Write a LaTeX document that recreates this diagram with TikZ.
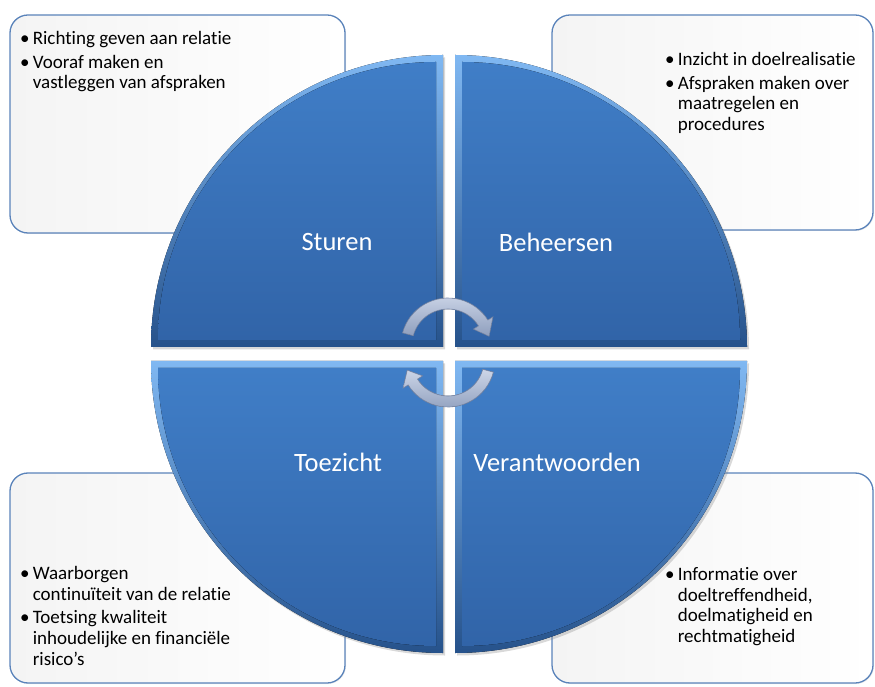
\documentclass[tikz,border=0pt]{standalone}
\usepackage{fontspec}
\setmainfont{Carlito}[Ligatures=NoCommon]
\usepackage{tikz}
\usetikzlibrary{arrows.meta,positioning,shadows}
\usepackage{xcolor}

\definecolor{boxedge}{HTML}{5A83BA}
\definecolor{boxfill}{HTML}{F4F4F4}
\definecolor{rimlight}{HTML}{80B8F2}
\definecolor{rimdark}{HTML}{26528B}
\definecolor{facelight}{HTML}{407EC7}
\definecolor{facedark}{HTML}{3164A8}
\definecolor{arrowlight}{HTML}{CDD6E8}
\definecolor{arrowdark}{HTML}{8E9EBD}
\definecolor{arrowedge}{HTML}{7A8AAA}

\begin{document}
\begin{tikzpicture}[x=1pt,y=1pt,
	rim/.style={top color=rimlight,bottom color=rimdark,
		drop shadow={opacity=0.3,shadow xshift=2pt,shadow yshift=-2.5pt}},
	face/.style={top color=facelight,bottom color=facedark},
	quadlabel/.style={text=white,font=\fontsize{26.5}{31}\selectfont},
	cyclearrow/.style={top color=arrowlight,bottom color=arrowdark,draw=arrowedge,line width=0.6pt}]
\useasboundingbox (0,0) rectangle (875,686);

\begin{scope}[every node/.style={rectangle,rounded corners=18pt,draw=boxedge,line width=1.3pt,
	left color=boxfill,right color=white,inner sep=0pt,
	drop shadow={opacity=0.15,shadow xshift=1pt,shadow yshift=-1pt}}]
	\node[minimum width=335pt,minimum height=218pt] (boxTL) at (177.5,562) {};
	\node[minimum width=321pt,minimum height=215pt] (boxTR) at (712.5,563.5) {};
	\node[minimum width=335pt,minimum height=210pt] (boxBL) at (177.5,108) {};
	\node[minimum width=321pt,minimum height=210pt] (boxBR) at (712.5,108) {};
\end{scope}

\begin{scope}[every node/.style={anchor=north west,align=left,inner sep=0pt,
	font=\fontsize{19}{20.8}\selectfont}]
	\node (textTL) at (20,655) {\textbullet\,Richting geven aan relatie\\[3pt]
	\textbullet\,Vooraf maken en\\
	\hphantom{\textbullet\,}vastleggen van afspraken};
	\node (textTR) at (665,634) {\textbullet\,Inzicht in doelrealisatie\\[3pt]
	\textbullet\,Afspraken maken over\\
	\hphantom{\textbullet\,}maatregelen en\\
	\hphantom{\textbullet\,}procedures};
	\node (textBL) at (20,120) {\textbullet\,Waarborgen\\
	\hphantom{\textbullet\,}continuïteit van de relatie\\[3pt]
	\textbullet\,Toetsing kwaliteit\\
	\hphantom{\textbullet\,}inhoudelijke en financiële\\
	\hphantom{\textbullet\,}risico{\char"0027}s};
	\node (textBR) at (665,119) {\textbullet\,Informatie over\\
	\hphantom{\textbullet\,}doeltreffendheid,\\
	\hphantom{\textbullet\,}doelmatigheid en\\
	\hphantom{\textbullet\,}rechtmatigheid};
\end{scope}

\begin{scope}
	\fill[rim] (443,339) -- (151,339) arc[start angle=180,end angle=90,radius=292] -- cycle;
	\fill[face] (436,346) -- (158,346) arc[start angle=180,end angle=90,radius=278] -- cycle;
	\fill[rim] (455,339) -- (747,339) arc[start angle=0,end angle=90,radius=292] -- cycle;
	\fill[face] (462,346) -- (740,346) arc[start angle=0,end angle=90,radius=278] -- cycle;
	\fill[rim] (443,325) -- (151,325) arc[start angle=180,end angle=270,radius=292] -- cycle;
	\fill[face] (436,318) -- (158,318) arc[start angle=180,end angle=270,radius=278] -- cycle;
	\fill[rim] (455,325) -- (747,325) arc[start angle=0,end angle=-90,radius=292] -- cycle;
	\fill[face] (462,318) -- (740,318) arc[start angle=0,end angle=-90,radius=278] -- cycle;
\end{scope}

\begin{scope}[every node/.style={quadlabel}]
	\node (sturen) at (337,444) {Sturen};
	\node (beheersen) at (556,444) {Beheersen};
	\node (toezicht) at (338,224) {Toezicht};
	\node (verantwoorden) at (557,224) {Verantwoorden};
\end{scope}

\begin{scope}[shift={(448,341)}]
	\filldraw[cyclearrow] (165:47) arc[start angle=165,end angle=32,radius=47] -- (32:53)
	 -- (12:42) -- (32:30) -- (32:36) arc[start angle=32,end angle=165,radius=36] -- cycle;
\end{scope}
\begin{scope}[shift={(448,326)}]
	\filldraw[cyclearrow] (-15:47) arc[start angle=-15,end angle=-148,radius=47] -- (-148:53)
	 -- (-166:42) -- (-148:30) -- (-148:36) arc[start angle=-148,end angle=-15,radius=36] -- cycle;
\end{scope}
\end{tikzpicture}
\end{document}
